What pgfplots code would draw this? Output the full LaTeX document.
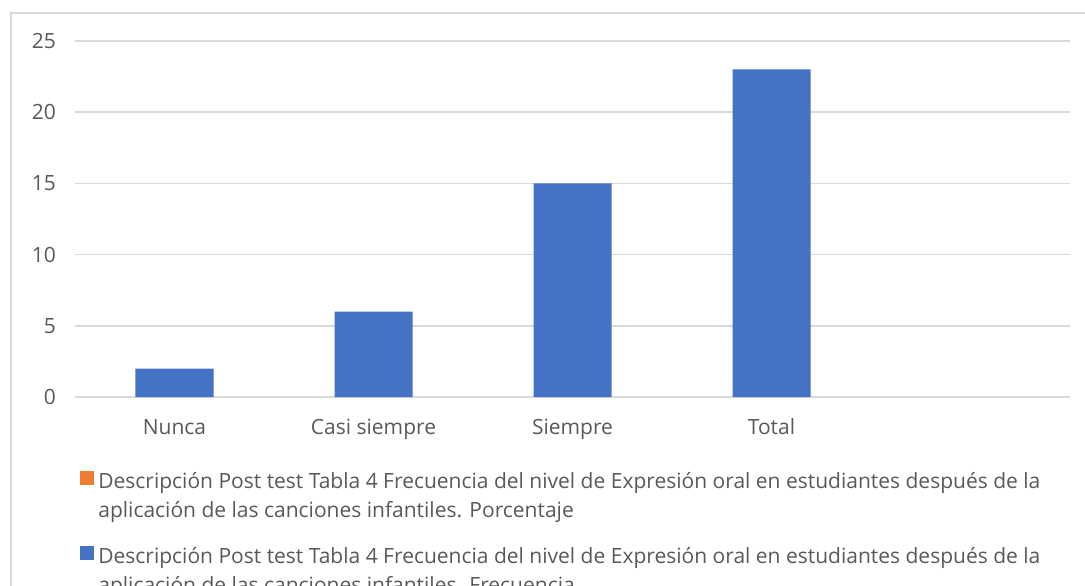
\documentclass[border=0pt]{standalone}
\usepackage{pgfplots}
\pgfplotsset{compat=1.18}
\usepackage{fontspec}
\setmainfont{Open Sans}
\definecolor{barblue}{HTML}{4472C4}
\definecolor{barorange}{HTML}{ED7D31}
\definecolor{txtgray}{HTML}{595959}
\definecolor{gridgray}{HTML}{D9D9D9}
\begin{document}
\begin{tikzpicture}
\draw[gridgray, line width=0.8pt] (5.5pt,-300pt) |- (560pt,-6.5pt);
\begin{axis}[
  at={(37.5pt,-198.5pt)}, anchor=south west,
  scale only axis, width=497.5pt, height=178pt,
  xmin=-0.5, xmax=4.5, ymin=0, ymax=25,
  ytick={0,5,...,25},
  xtick={0,1,2,3},
  xticklabels={Nunca, Casi siempre, Siempre, Total},
  axis line style={draw=none},
  x axis line style={draw=gridgray, line width=0.8pt},
  ymajorgrids, grid style={gridgray, line width=0.8pt},
  major tick length=0pt,
  tick label style={font=\fontsize{10.5pt}{12.5pt}\selectfont, text=txtgray},
  /pgf/number format/assume math mode=true,
  yticklabel style={xshift=-6pt},
  xticklabel style={anchor=base, yshift=-18.5pt},
  ybar, bar width=0.392,
  legend cell align=left,
  legend style={at={(0.005,-0.199)}, anchor=north west, draw=none, fill=none,
    inner sep=0pt, row sep=9.5pt,
    font=\fontsize{10.5pt}{14.5pt}\selectfont, text=txtgray,
    cells={align=left}},
  legend image code/.code={\fill (0pt,5.5pt) rectangle (7pt,12.5pt);},
]
\addlegendimage{fill=barorange, draw=none}
\addlegendentry{Descripción Post test Tabla 4 Frecuencia del nivel de Expresión oral en estudiantes después de la\\aplicación de las canciones infantiles. Porcentaje}
\addplot[fill=barblue, draw=none] coordinates {(0,2) (1,6) (2,15) (3,23)};
\addlegendentry{Descripción Post test Tabla 4 Frecuencia del nivel de Expresión oral en estudiantes después de la\\aplicación de las canciones infantiles. Frecuencia}
\end{axis}
\pgfresetboundingbox
\useasboundingbox (0,0) rectangle (542.5pt,-292.5pt);
\end{tikzpicture}
\end{document}
